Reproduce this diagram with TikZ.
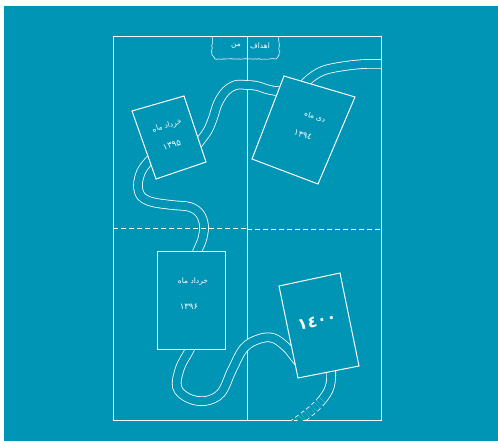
\documentclass[tikz,border=0pt]{standalone}
\usepackage{fontspec}
\newfontfamily\arabicfont[Script=Arabic]{DejaVu Sans}
\TeXXeTstate=1
\usetikzlibrary{decorations.pathmorphing}
\definecolor{bg}{RGB}{0,148,181}
\begin{document}
\begin{tikzpicture}[x=1pt,y=-1pt,
  frameline/.style={draw=white, line width=0.9pt},
  road/.style={draw=white, line width=0.8pt, double=bg, double distance=8pt},
  card/.style={draw=white, line width=1pt, fill=bg, line join=miter},
  lbl/.style={text=white, inner sep=0pt, font=\arabicfont\fontsize{7.5}{8}\selectfont},
  num/.style={text=white, inner sep=0pt, font=\arabicfont\fontsize{8.5}{9}\selectfont}]
\useasboundingbox (0,0) rectangle (498,441);
\fill[white] (0,0) rectangle (498,441);
\fill[bg] (4,6) rectangle (498,441);

% frame
\draw[frameline] (113,36) rectangle (381,420);
\draw[frameline] (247,36) -- (247,420);

% roads
\begin{scope}
\clip (113,36) rectangle (381,420);
\draw[road] plot[smooth, tension=0.6] coordinates {(383,64) (365,64) (345,66) (325,70) (312,77) (300,88)};
\draw[road] plot[smooth, tension=0.6] coordinates {(286,92) (270,90) (257,86) (247,85) (236,85) (226,91) (218,103) (213,118) (208,130) (201,140) (194,149)};
\draw[road] plot[smooth, tension=0.6] coordinates {(156,154) (148,162) (141,172) (138,185) (141,196) (152,202) (172,205) (190,207) (200,214) (204,226) (202,240) (197,252) (195,262)};
\draw[road] plot[smooth, tension=0.6] coordinates {(193,342) (189,351) (180,368) (177,387) (188,398) (205,401) (221,393) (232,370) (244,348) (259,339) (273,338) (286,347) (296,359) (302,366)};
\draw[road] (331,365) .. controls (332,385) and (330,390) .. (322,400);
\draw[road, dashed, dash pattern=on 4pt off 3pt] (322,400) .. controls (314,410) and (304,416) .. (294,424);
\end{scope}

% dashed fold line
\draw[frameline, dash pattern=on 5pt off 3pt] (113,228) -- (247,228);
\draw[frameline, dash pattern=on 5pt off 3pt] (247,229) -- (381,229);

% tab
\draw[white, line width=0.6pt, decorate, decoration={random steps, segment length=2pt, amplitude=0.4pt}]
  (212,36) -- (212,55) -- (215,59) -- (276,59) -- (279,55) -- (279,36);
\node[lbl] (men) at (236,46) {\beginR من\endR};
\node[lbl] (ahdaf) at (260,46) {\beginR اهداف\endR};

% cards
\draw[card] (132,111) -- (184,96) -- (206,162) -- (156,179) -- cycle;
\node[lbl, rotate=16] (c1a) at (167,126) {\beginR خرداد ماه\endR};
\node[num, rotate=16] (c1b) at (172,145) {۱۳۹۵};

\draw[card] (284,76) -- (355,97) -- (318,184) -- (252,159) -- cycle;
\node[lbl, rotate=-18] (c2a) at (315,117) {\beginR دی ماه\endR};
\node[num, rotate=-18] (c2b) at (303,135) {۱۳۹٤};

\draw[card] (157,251) rectangle (225,349);
\node[lbl] (c3a) at (193,282) {\beginR خرداد ماه\endR};
\node[num] (c3b) at (189,307) {۱۳۹۶};

\draw[card] (279,286) -- (340,273) -- (359,366) -- (298,378) -- cycle;
\node[text=white, inner sep=0pt, rotate=12, font=\arabicfont\bfseries\fontsize{16}{18}\selectfont] (c4) at (317,321) {١٤٠٠};
\end{tikzpicture}
\end{document}
